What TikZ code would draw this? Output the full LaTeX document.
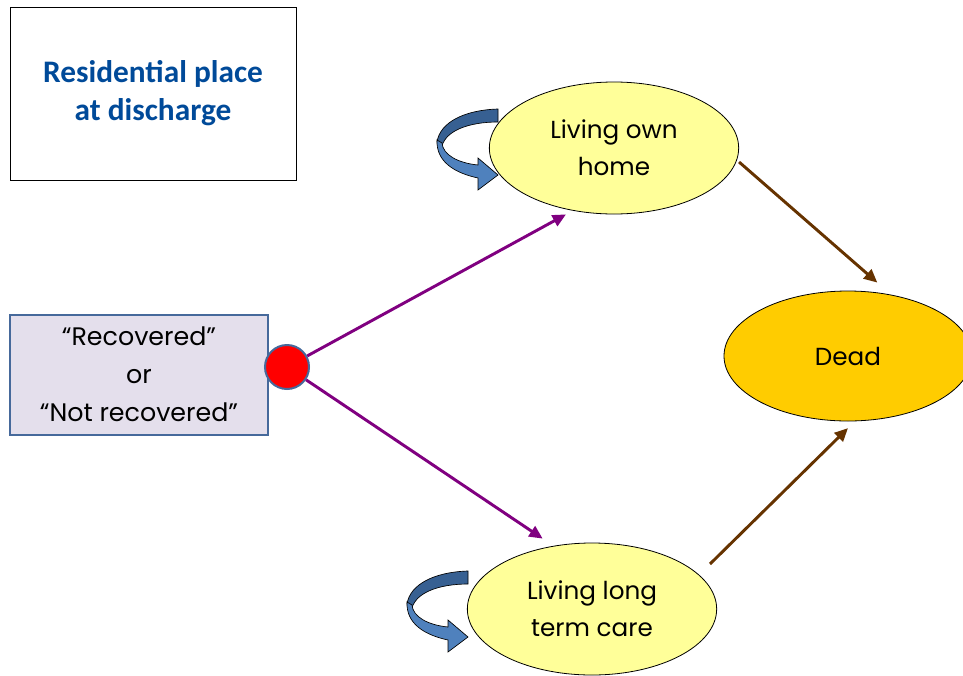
\documentclass[tikz,border=0pt]{standalone}
\usepackage{fontspec}
\setmainfont{Poppins}
\newfontfamily\titlefont{Carlito}
\usepackage{tikz}
\usetikzlibrary{shapes.geometric,arrows.meta,positioning}
\definecolor{titleblue}{RGB}{0,74,153}
\definecolor{boxedge}{RGB}{70,105,155}
\definecolor{boxfill}{RGB}{228,223,236}
\definecolor{stateyellow}{RGB}{255,255,153}
\definecolor{deadgold}{RGB}{255,204,0}
\definecolor{pathpurple}{RGB}{128,0,128}
\definecolor{pathbrown}{RGB}{102,51,0}
\definecolor{loopdark}{RGB}{55,96,146}
\definecolor{looplight}{RGB}{79,129,189}

\begin{document}
\begin{tikzpicture}[
  x=0.75pt, y=-0.75pt,
  state/.style={ellipse, draw=black, line width=0.6pt, fill=stateyellow,
                minimum width=187pt, minimum height=99pt, inner sep=0pt,
                align=center, font=\fontsize{18.5}{28}\selectfont},
  start/.style={rectangle, draw=boxedge, line width=1.5pt, fill=boxfill,
                minimum width=193pt, minimum height=90pt, align=center,
                font=\fontsize{19}{28.5}\selectfont},
  moveto/.style={-{Triangle[length=10pt,width=9pt]}, line width=2.2pt, color=pathpurple},
  dieto/.style={-{Triangle[length=10pt,width=9pt]}, line width=2.2pt, color=pathbrown},
  selfloop/.pic={
    \filldraw[fill=loopdark, draw=black, line width=0.5pt]
      (0,0) .. controls (-33,1) and (-58,13) .. (-61,33) -- (-56,37)
      .. controls (-52,22) and (-30,13) .. (0,13) -- cycle;
    \filldraw[fill=looplight, draw=black, line width=0.5pt]
      (-61,31) .. controls (-62,53) and (-43,64) .. (-20,69) -- (-20,81)
      -- (0,66) -- (-20,49) -- (-20,56)
      .. controls (-40,54) and (-55,46) .. (-56,34) -- cycle;
  }
]
  \useasboundingbox (0,0) rectangle (963,675);

  % legend box
  \node[rectangle, draw=black, line width=0.6pt, minimum width=214.5pt,
        minimum height=129.75pt, align=center, text=titleblue,
        font=\titlefont\bfseries\fontsize{23.5}{28.5}\selectfont]
        (title) at (153,93.5) {Residential place\\at discharge};

  % states
  \node[start] (entry) at (139,374.5) {“Recovered”\\or\\“Not recovered”};
  \node[circle, draw=boxedge, line width=1.5pt, fill=red, minimum size=33pt,
        inner sep=0pt] (dot) at (287,367) {};
  \node[state] (home) at (614,148) {Living own\\home};
  \node[state] (care) at (592,609) {Living long\\term care};
  \node[state, fill=deadgold, minimum width=186pt, minimum height=97.5pt]
        (dead) at (848,356) {Dead};

  % staying in place
  \pic at (498,109) {selfloop};
  \pic at (468,571) {selfloop};

  % transitions
  \draw[moveto] (dot) -- ([xshift=-36pt]home.south);
  \draw[moveto] (dot) -- ([xshift=-37pt,yshift=3pt]care.north);
  \draw[dieto] ([yshift=-10.5pt]home.east) -- ([xshift=22pt,yshift=6pt]dead.north);
  \draw[dieto] ([xshift=88.5pt,yshift=33.75pt]care.center) -- ([yshift=-5pt]dead.south);
\end{tikzpicture}
\end{document}
